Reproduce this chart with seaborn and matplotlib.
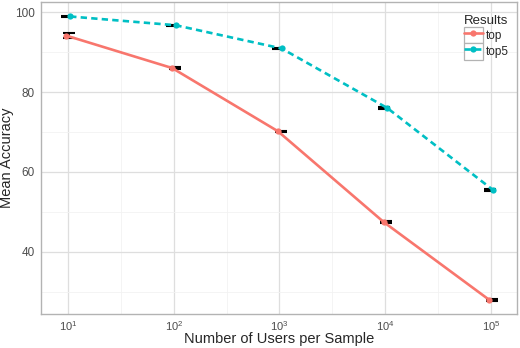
import numpy as np
import pandas as pd
import matplotlib
matplotlib.use("Agg")
import matplotlib.pyplot as plt
import seaborn as sns
from matplotlib.ticker import FixedLocator, NullFormatter
from matplotlib.lines import Line2D
from matplotlib.patches import Rectangle

users = [10, 100, 1000, 10000, 100000]
top = [94.1, 86.0, 70.2, 47.5, 28.0]
top5 = [98.9, 96.7, 90.9, 76.0, 55.5]
top_err = [0.6, 0.2, 0.15, 0.15, 0.15]
top5_err = [0.2, 0.15, 0.15, 0.2, 0.25]

df = pd.DataFrame({
    "users": users * 2,
    "acc": top + top5,
    "err": top_err + top5_err,
    "Results": ["top"] * 5 + ["top5"] * 5,
})
# small dodge like ggplot position_dodge on log axis
shift = {"top": -0.015, "top5": 0.02}
eshift = {"top": 0.012, "top5": -0.012}
df["x"] = df["users"] * 10 ** df["Results"].map(shift)
df["xe"] = df["users"] * 10 ** df["Results"].map(eshift)

sns.set_style("whitegrid")
plt.rcParams["font.family"] = ["Liberation Sans", "DejaVu Sans"]
plt.rcParams["mathtext.fontset"] = "custom"
plt.rcParams["mathtext.rm"] = "Liberation Sans"
plt.rcParams["mathtext.default"] = "regular"

fig, ax = plt.subplots(figsize=(5.2, 3.48), dpi=100)
fig.subplots_adjust(left=0.079, right=0.994, top=0.994, bottom=0.098)

pal = {"top": "#F8766D", "top5": "#00BFC4"}
for name, sub in df.groupby("Results"):
    ax.errorbar(sub["xe"], sub["acc"], yerr=sub["err"], fmt="none",
                ecolor="black", elinewidth=1.2, capsize=4, capthick=1.5, zorder=2)

sns.lineplot(data=df, x="x", y="acc", hue="Results", style="Results",
             palette=pal, dashes={"top": "", "top5": (2.4, 1.6)},
             markers={"top": "o", "top5": "o"}, markersize=4.5,
             markeredgewidth=0, linewidth=1.9, ax=ax, legend=False, zorder=3)

ax.set_xscale("log")
ax.set_xlim(10 ** 0.745, 10 ** 5.246)
ax.set_ylim(24.5, 102.5)
ax.xaxis.set_major_locator(FixedLocator(users))
ax.xaxis.set_minor_locator(FixedLocator([10 ** (k + 0.5) for k in range(0, 6)]))
ax.xaxis.set_minor_formatter(NullFormatter())
ax.set_xticklabels([r"$10^{%d}$" % k for k in range(1, 6)])
ax.set_yticks([40, 60, 80, 100])
ax.set_yticks([30, 50, 70, 90], minor=True)

ax.grid(which="major", color="#DEDEDE", linewidth=0.9)
ax.grid(which="minor", color="#F2F2F2", linewidth=0.6)
for s in ax.spines.values():
    s.set_color("#B3B3B3")
    s.set_linewidth(1.0)
ax.tick_params(which="major", length=2.5, color="#B3B3B3", labelsize=8.5,
               labelcolor="#4D4D4D", pad=2)
ax.tick_params(axis="x", labelsize=8, pad=1.5)
ax.tick_params(which="minor", length=0)

ax.set_xlabel("Number of Users per Sample", fontsize=10.5)
ax.set_ylabel("Mean Accuracy", fontsize=10.5)
ax.xaxis.set_label_coords(0.5, -0.058)
ax.yaxis.set_label_coords(-0.056, 0.5)

handles = []
for name, ls in [("top", "-"), ("top5", (0, (2.4, 1.6)))]:
    box = Rectangle((0, 0), 1, 1, facecolor="white", edgecolor="#B3B3B3", lw=0.9)
    ln = Line2D([], [], color=pal[name], lw=1.9, ls=ls, marker="o",
                markersize=4.5, markeredgewidth=0)
    handles.append((box, ln))
leg = ax.legend(handles, ["top", "top5"], title="Results", loc="upper right",
                bbox_to_anchor=(1.0, 0.985), frameon=False, fontsize=8.5,
                title_fontsize=9.5, handlelength=1.6, handleheight=1.75,
                handletextpad=0.25, labelspacing=0.0, borderpad=0.2)
leg._legend_box.align = "left"

fig.savefig("out.png", dpi=100)
